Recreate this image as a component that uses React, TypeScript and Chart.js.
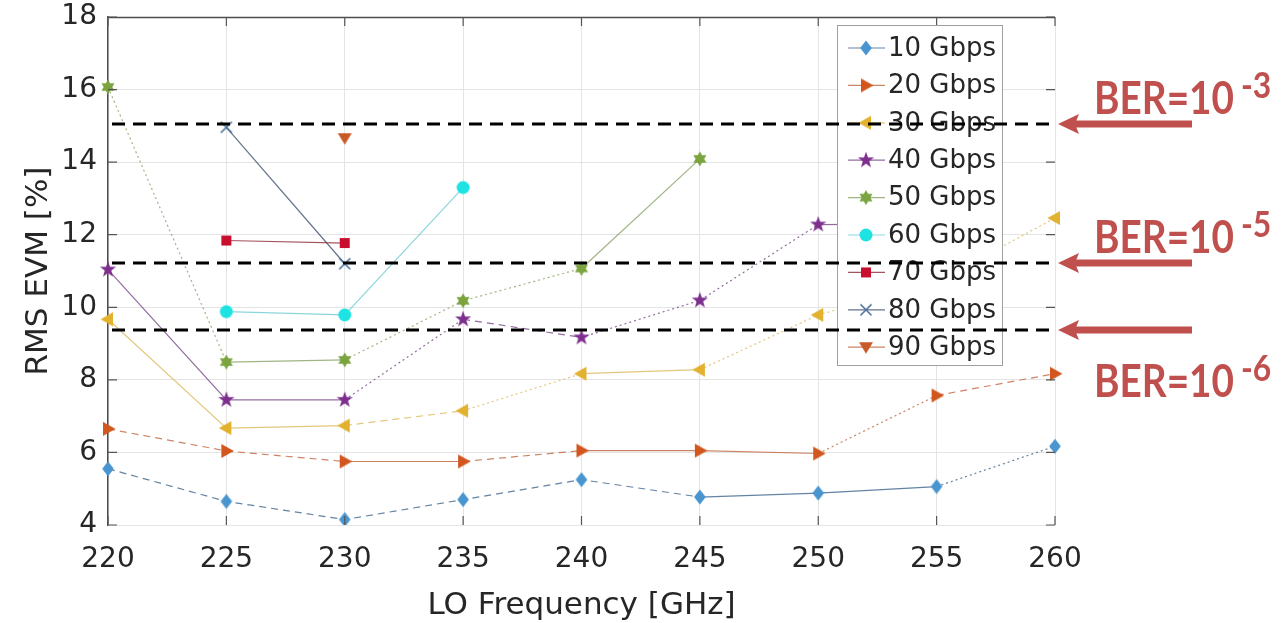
import React, { useEffect, useRef } from 'react';
import { Chart, registerables } from 'chart.js';

Chart.register(...registerables);

// ---------------- data ----------------
const frequencies = [220, 225, 230, 235, 240, 245, 250, 255, 260];
const seriesLabels = ['10 Gbps', '20 Gbps', '30 Gbps', '40 Gbps', '50 Gbps', '60 Gbps', '70 Gbps', '80 Gbps', '90 Gbps'];
const evm10 = [5.55, 4.65, 4.15, 4.7, 5.25, 4.77, 4.88, 5.06, 6.17];
const evm20 = [6.65, 6.04, 5.75, 5.75, 6.05, 6.05, 5.97, 7.57, 8.17];
const evm30 = [9.67, 6.67, 6.74, 7.15, 8.17, 8.28, 9.79, 10.7, 12.46];
const evm40 = [11.04, 7.45, 7.45, 9.67, 9.17, 10.19, 12.28, 12.3, null];
const evm50 = [16.07, 8.49, 8.55, 10.18, 11.07, 14.09, null, null, null];
const evm60 = [null, 9.88, 9.79, 13.3, null, null, null, null, null];
const evm70 = [null, 11.84, 11.77, null, null, null, null, null, null];
const evm80 = [null, 14.96, 11.2, null, null, null, null, null, null];
const evm90 = [null, null, 14.66, null, null, null, null, null, null];
const yMin = 4;
const yMax = 18;
const yStep = 2;
const berLevels = [15.05, 11.22, 9.38];
const berExponents = ['-3', '-5', '-6'];
const xTitle = 'LO Frequency [GHz]';
const yTitle = 'RMS EVM [%]';

// ---------------- styles ----------------
const seriesColors = ['#4895CF', '#D2571F', '#E2B12E', '#7E2F8E', '#7BA33E', '#1FE3E3', '#C8102E', '#4A6F9A', '#C85A28'];
const lineColors = [
  'rgba(60,100,140,0.8)', 'rgba(190,90,50,0.75)', 'rgba(215,175,70,0.7)', 'rgba(110,60,125,0.75)',
  'rgba(120,150,80,0.7)', 'rgba(80,190,200,0.65)', 'rgba(140,40,50,0.8)', 'rgba(60,80,110,0.8)', 'rgba(190,90,50,0.75)',
];
const seriesMarkers = ['diamond', 'triR', 'triL', 'pent', 'hex', 'circle', 'square', 'cross', 'triD'];
const segmentStyles = ['dddddsso', 'ddsdssod', 'ssdosooo', 'ssodooss', 'osoos---', '-ss-----', '-s------', '-s------', '--------'];
const FONT = 'DejaVu Sans';
const TEXT = '#262626';
const BER_RED = '#C0504D';

function dashFor(c: string) {
  if (c === 'd') return [7, 5];
  if (c === 'o') return [2, 3];
  return [];
}

function starPath(g: CanvasRenderingContext2D, n: number, ro: number, ri: number) {
  for (let k = 0; k < 2 * n; k++) {
    const r = k % 2 === 0 ? ro : ri;
    const a = -Math.PI / 2 + (k * Math.PI) / n;
    const px = r * Math.cos(a);
    const py = r * Math.sin(a);
    if (k === 0) g.moveTo(px, py);
    else g.lineTo(px, py);
  }
  g.closePath();
}

function makeMarker(kind: string, color: string): HTMLCanvasElement {
  const S = 20;
  const c = document.createElement('canvas');
  c.width = S;
  c.height = S;
  const g = c.getContext('2d')!;
  g.translate(S / 2, S / 2);
  g.fillStyle = color;
  g.strokeStyle = color;
  g.beginPath();
  switch (kind) {
    case 'diamond':
      g.moveTo(0, -7.5); g.lineTo(5.8, 0); g.lineTo(0, 7.5); g.lineTo(-5.8, 0); g.closePath(); g.fill();
      break;
    case 'triR':
      g.moveTo(7.5, 0); g.lineTo(-5, -7); g.lineTo(-5, 7); g.closePath(); g.fill();
      break;
    case 'triL':
      g.moveTo(-7.5, 0); g.lineTo(5, -7); g.lineTo(5, 7); g.closePath(); g.fill();
      break;
    case 'triD':
      g.moveTo(0, 6.5); g.lineTo(-7, -5); g.lineTo(7, -5); g.closePath(); g.fill();
      break;
    case 'pent':
      starPath(g, 5, 8.5, 3.4); g.fill();
      break;
    case 'hex':
      starPath(g, 6, 7.5, 4.3); g.fill();
      break;
    case 'circle':
      g.arc(0, 0, 6.5, 0, Math.PI * 2); g.fill();
      break;
    case 'square':
      g.rect(-5, -5, 10, 10); g.fill();
      break;
    case 'cross':
      g.lineWidth = 1.6;
      g.moveTo(-5.5, -5.5); g.lineTo(5.5, 5.5); g.moveTo(5.5, -5.5); g.lineTo(-5.5, 5.5); g.stroke();
      break;
  }
  return c;
}

export default function App() {
  const ref = useRef<HTMLCanvasElement>(null);

  useEffect(() => {
    if (!ref.current) return;
    const allSeries = [evm10, evm20, evm30, evm40, evm50, evm60, evm70, evm80, evm90];
    const markers = seriesMarkers.map((m, i) => makeMarker(m, seriesColors[i]));

    const datasets = allSeries.map((data, i) => ({
      label: seriesLabels[i],
      data,
      borderColor: lineColors[i],
      backgroundColor: seriesColors[i],
      borderWidth: 1.2,
      pointStyle: markers[i],
      pointRadius: 7,
      pointHoverRadius: 7,
      spanGaps: false,
      tension: 0,
      segment: {
        borderDash: (ctx: any) => dashFor(segmentStyles[i][ctx.p0DataIndex] || 's'),
      },
    }));

    const overlay = {
      id: 'overlay',
      afterDatasetsDraw(chart: any) {
        const { ctx, chartArea } = chart;
        const { left, right, top, bottom } = chartArea;
        const x = chart.scales.x;
        const y = chart.scales.y;
        ctx.save();
        // box top line
        ctx.strokeStyle = '#4d4d4d';
        ctx.lineWidth = 1.3;
        ctx.beginPath();
        ctx.moveTo(left, top + 0.5);
        ctx.lineTo(right, top + 0.5);
        ctx.stroke();
        // inward ticks
        ctx.strokeStyle = '#555';
        ctx.lineWidth = 1.2;
        ctx.beginPath();
        frequencies.forEach((_, i) => {
          const px = x.getPixelForTick(i);
          ctx.moveTo(px, bottom); ctx.lineTo(px, bottom - 9);
          ctx.moveTo(px, top); ctx.lineTo(px, top + 9);
        });
        for (let v = yMin; v <= yMax; v += yStep) {
          const py = y.getPixelForValue(v);
          ctx.moveTo(left, py); ctx.lineTo(left + 9, py);
          ctx.moveTo(right, py); ctx.lineTo(right - 9, py);
        }
        ctx.stroke();

        // legend
        const lx = right - 218;
        const ly = top + 8;
        const lw = 165;
        const lh = 340;
        ctx.fillStyle = '#ffffff';
        ctx.fillRect(lx, ly, lw, lh);
        ctx.strokeStyle = '#a0a0a0';
        ctx.lineWidth = 1;
        ctx.strokeRect(lx + 0.5, ly + 0.5, lw, lh);
        ctx.font = `26px "${FONT}"`;
        ctx.textBaseline = 'middle';
        ctx.textAlign = 'left';
        seriesLabels.forEach((lab, i) => {
          const ry = ly + 23 + i * 37.4;
          ctx.strokeStyle = lineColors[i];
          ctx.lineWidth = 1.2;
          ctx.setLineDash([]);
          ctx.beginPath();
          ctx.moveTo(lx + 11, ry);
          ctx.lineTo(lx + 48, ry);
          ctx.stroke();
          const m = markers[i];
          ctx.drawImage(m, lx + 29 - m.width / 2, ry - m.height / 2);
          ctx.fillStyle = TEXT;
          ctx.fillText(lab, lx + 51, ry + 1);
        });
        ctx.restore();
      },
      afterDraw(chart: any) {
        const { ctx, chartArea } = chart;
        const { left, right } = chartArea;
        const y = chart.scales.y;
        ctx.save();
        berLevels.forEach((lv, i) => {
          const py = Math.round(y.getPixelForValue(lv));
          // dashed threshold line
          ctx.strokeStyle = '#000';
          ctx.lineWidth = 3;
          ctx.setLineDash([13, 8]);
          ctx.beginPath();
          ctx.moveTo(left + 4, py);
          ctx.lineTo(right, py);
          ctx.stroke();
          ctx.setLineDash([]);
          // arrow
          const tip = right + 3;
          const tail = right + 137;
          ctx.strokeStyle = BER_RED;
          ctx.fillStyle = BER_RED;
          ctx.lineWidth = 7;
          ctx.beginPath();
          ctx.moveTo(tail, py);
          ctx.lineTo(tip + 14, py);
          ctx.stroke();
          ctx.beginPath();
          ctx.moveTo(tip, py);
          ctx.lineTo(tip + 21, py - 10);
          ctx.lineTo(tip + 17, py);
          ctx.lineTo(tip + 21, py + 10);
          ctx.closePath();
          ctx.fill();
          // label
          const base = i < 2 ? py - 10 : py + 67;
          const tx = right + 39;
          ctx.font = 'bold 45px Lato';
          ctx.textBaseline = 'alphabetic';
          ctx.textAlign = 'left';
          const main = 'BER=10';
          const w = ctx.measureText(main).width;
          const sx = Math.min(1, 140 / w);
          ctx.save();
          ctx.translate(tx, base);
          ctx.scale(sx, 1);
          ctx.fillText(main, 0, 0);
          ctx.font = 'bold 37px Lato';
          ctx.fillText(berExponents[i], w + 8, -16);
          ctx.restore();
        });
        ctx.restore();
      },
    };

    const chart = new Chart(ref.current, {
      type: 'line',
      data: { labels: frequencies.map(String), datasets: datasets as any },
      options: {
        animation: false,
        responsive: true,
        maintainAspectRatio: false,
        layout: { padding: { top: 17, right: 233, left: 0, bottom: 0 } },
        plugins: { legend: { display: false }, tooltip: { enabled: false } },
        scales: {
          x: {
            type: 'category',
            offset: false,
            ticks: { color: TEXT, font: { family: FONT, size: 28 }, padding: 18, autoSkip: false, maxRotation: 0 },
            grid: { color: '#e4e4e4', drawTicks: false, lineWidth: 1 },
            border: { display: false },
            title: {
              display: true,
              text: xTitle,
              color: TEXT,
              font: { family: FONT, size: 31, lineHeight: 1 },
              padding: { top: 0, bottom: 2 },
            },
            afterFit(s: any) { s.height = 98; s.paddingLeft = 0; s.paddingRight = 0; },
          },
          y: {
            min: yMin,
            max: yMax,
            ticks: { stepSize: yStep, color: TEXT, font: { family: FONT, size: 28 }, padding: 11 },
            grid: { color: '#e4e4e4', drawTicks: false, lineWidth: 1 },
            border: { display: true, color: '#4d4d4d', width: 1.5 },
            title: {
              display: true,
              text: yTitle,
              color: TEXT,
              font: { family: FONT, size: 31, lineHeight: 1 },
              padding: { top: 23, bottom: 0 },
            },
            afterFit(s: any) { s.width = 108; s.paddingTop = 0; s.paddingBottom = 0; },
          },
        },
      } as any,
      plugins: [overlay],
    });
    return () => chart.destroy();
  }, []);

  return (
    <div style={{ position: 'fixed', left: 0, top: 0, width: 1288, height: 623, background: '#fff' }}>
      <canvas ref={ref} />
    </div>
  );
}
